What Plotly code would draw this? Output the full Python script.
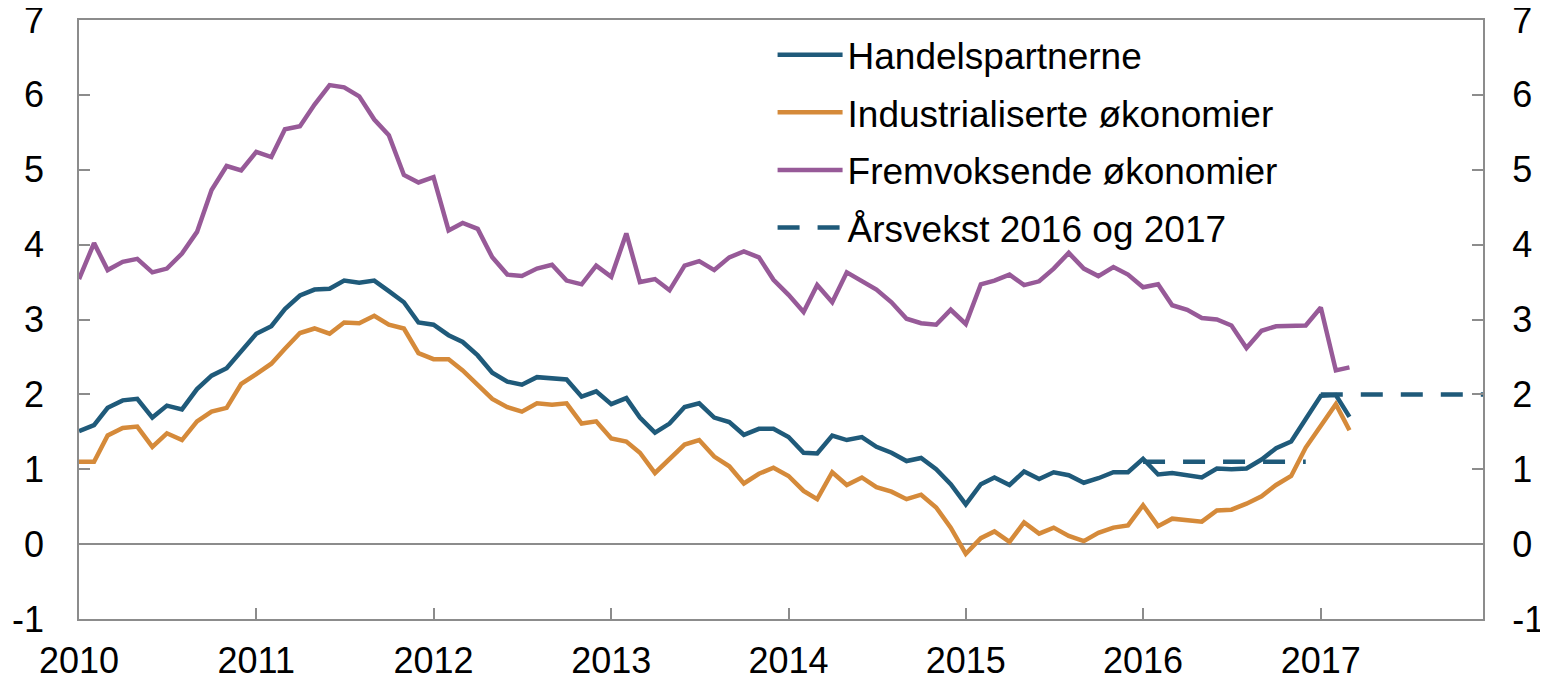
import pandas as pd
import plotly.graph_objects as go

# Monthly data, Jan 2010 - Mar 2017
dates = pd.date_range("2010-01-01", periods=87, freq="MS")

handelspartnerne = [
    1.51, 1.59, 1.82, 1.92, 1.94, 1.69, 1.85, 1.80, 2.07, 2.25, 2.35, 2.58,
    2.81, 2.91, 3.14, 3.32, 3.40, 3.41, 3.52, 3.49, 3.52, 3.38, 3.23, 2.96,
    2.93, 2.79, 2.70, 2.52, 2.29, 2.17, 2.13, 2.23, 2.22, 2.20, 1.97, 2.04,
    1.87, 1.95, 1.69, 1.49, 1.61, 1.83, 1.88, 1.69, 1.63, 1.46, 1.54, 1.54,
    1.43, 1.22, 1.21, 1.45, 1.39, 1.43, 1.30, 1.22, 1.11, 1.15, 1.00, 0.80,
    0.53, 0.80, 0.89, 0.79, 0.97, 0.87, 0.96, 0.92, 0.82, 0.88, 0.96, 0.96,
    1.14, 0.93, 0.95, 0.92, 0.89, 1.01, 1.00, 1.01, 1.13, 1.28, 1.37, 1.67,
    1.98, 1.99, 1.70,
]

industrialiserte = [
    1.10, 1.10, 1.45, 1.55, 1.57, 1.30, 1.48, 1.39, 1.64, 1.77, 1.82, 2.14,
    2.27, 2.41, 2.61, 2.82, 2.88, 2.81, 2.96, 2.95, 3.05, 2.93, 2.88, 2.55,
    2.47, 2.47, 2.32, 2.12, 1.94, 1.83, 1.77, 1.88, 1.86, 1.88, 1.61, 1.64,
    1.41, 1.37, 1.22, 0.95, 1.14, 1.33, 1.39, 1.17, 1.04, 0.81, 0.94, 1.02,
    0.91, 0.71, 0.60, 0.96, 0.79, 0.89, 0.76, 0.70, 0.60, 0.66, 0.49, 0.22,
    -0.13, 0.08, 0.17, 0.03, 0.29, 0.14, 0.22, 0.11, 0.04, 0.15, 0.22, 0.25,
    0.52, 0.24, 0.34, 0.32, 0.30, 0.45, 0.46, 0.54, 0.64, 0.79, 0.91, 1.29,
    1.59, 1.87, 1.52,
]

fremvoksende = [
    3.54, 4.02, 3.66, 3.77, 3.81, 3.63, 3.68, 3.88, 4.17, 4.73, 5.05, 4.99,
    5.24, 5.17, 5.54, 5.58, 5.87, 6.13, 6.10, 5.98, 5.67, 5.46, 4.93, 4.83,
    4.90, 4.19, 4.29, 4.21, 3.83, 3.60, 3.58, 3.68, 3.73, 3.52, 3.47, 3.72,
    3.57, 4.15, 3.50, 3.54, 3.39, 3.72, 3.78, 3.66, 3.83, 3.91, 3.83, 3.53,
    3.33, 3.10, 3.46, 3.23, 3.63, 3.51, 3.40, 3.23, 3.01, 2.95, 2.93, 3.13,
    2.94, 3.47, 3.52, 3.60, 3.46, 3.51, 3.68, 3.89, 3.68, 3.58, 3.70, 3.60,
    3.43, 3.47, 3.19, 3.13, 3.02, 3.00, 2.92, 2.62, 2.85, 2.91, 2.91, 2.92,
    3.16, 2.32, 2.36,
]

# Annual growth (forecast) 2016 and 2017
arsvekst_x = ["2016-01-01", "2016-12-01", None, "2017-01-01", "2017-12-01"]
arsvekst_y = [1.1, 1.1, None, 2.0, 2.0]

year_ticks = [f"{y}-01-01" for y in range(2010, 2018)]
year_labels = [str(y) for y in range(2010, 2018)]
y_ticks = [-1, 0, 1, 2, 3, 4, 5, 6, 7]
y_labels = ["-1", "0", "1", "2", "3", "4", "5", "6", "7"]

BLUE = "#1f5a7a"
ORANGE = "#d58a3a"
PURPLE = "#975a98"
GRAY = "#8c8c8c"
FONT = "Liberation Sans, Arial, sans-serif"
LW = 4.5

fig = go.Figure()
fig.add_trace(go.Scatter(x=dates, y=handelspartnerne, mode="lines", legendgroup="a",
                         name="Handelspartnerne", line=dict(color=BLUE, width=LW)))
fig.add_trace(go.Scatter(x=dates, y=industrialiserte, mode="lines", legendgroup="b",
                         name="Industrialiserte økonomier", line=dict(color=ORANGE, width=LW)))
fig.add_trace(go.Scatter(x=dates, y=fremvoksende, mode="lines", legendgroup="c",
                         name="Fremvoksende økonomier", line=dict(color=PURPLE, width=LW)))
fig.add_trace(go.Scatter(x=arsvekst_x, y=arsvekst_y, mode="lines", yaxis="y2", legendgroup="d",
                         name="Årsvekst 2016 og 2017",
                         line=dict(color=BLUE, width=LW, dash="22px,18px")))

# The page body adds an 8px offset; margins compensate so the plot area sits at
# x 79..1483, y 20..619 of the window.
fig.update_layout(
    width=1540, height=669,
    margin=dict(l=71, r=65, t=12, b=58, autoexpand=False),
    paper_bgcolor="white", plot_bgcolor="white",
    font=dict(family=FONT, size=36, color="black"),
    showlegend=True,
    legend=dict(x=0.494, y=0.993, xanchor="left", yanchor="top",
                bgcolor="rgba(0,0,0,0)", font=dict(size=37), itemwidth=65,
                tracegroupgap=6.5, traceorder="grouped"),
    xaxis=dict(type="date", range=["2010-01-01", "2017-12-01"],
               tickvals=year_ticks, ticktext=year_labels,
               ticks="inside", ticklen=11, tickwidth=1.5, tickcolor=GRAY,
               showline=True, linecolor=GRAY, linewidth=1.5, mirror=True,
               showgrid=False, zeroline=False, ticklabelstandoff=9,
               ticklabeloverflow="allow"),
    yaxis=dict(range=[-1, 7], tickvals=y_ticks, ticktext=y_labels,
               ticks="inside", ticklen=11, tickwidth=1.5, tickcolor=GRAY,
               showline=True, linecolor=GRAY, linewidth=1.5, mirror="ticks",
               showgrid=False, zeroline=True, zerolinecolor=GRAY, zerolinewidth=1.5,
               ticklabelstandoff=26, ticklabeloverflow="allow"),
    yaxis2=dict(range=[-1, 7], tickvals=y_ticks, ticktext=y_labels,
                overlaying="y", side="right",
                ticks="outside", ticklen=21, tickcolor="rgba(0,0,0,0)",
                showline=False, showgrid=False, zeroline=False,
                ticklabeloverflow="allow"),
)

fig.write_html("out.html")
